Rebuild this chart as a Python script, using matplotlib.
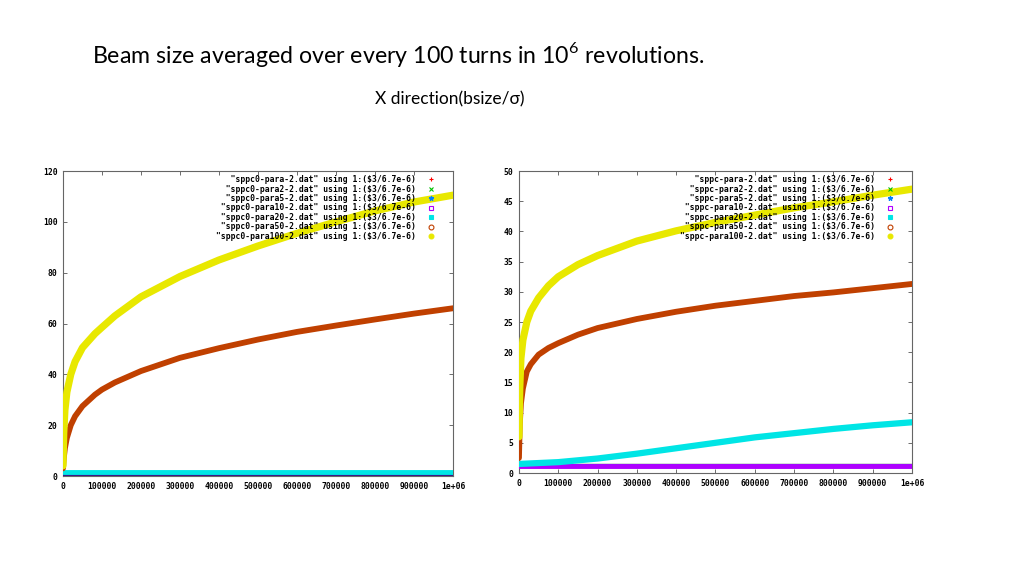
import numpy as np
import matplotlib
matplotlib.use('Agg')
import matplotlib.pyplot as plt
from matplotlib.lines import Line2D

plt.rcParams['mathtext.fontset'] = 'custom'
plt.rcParams['mathtext.rm'] = 'Lato'

### DADOS (turns, bsize/sigma) ###

# painel esquerdo (sppc0)
turns_l = [0, 2000, 5000, 10000, 20000, 31000, 50000, 82000, 100000, 133000, 200000,
           300000, 400000, 500000, 600000, 700000, 800000, 900000, 1000000]
yellow_l = [4, 17, 26, 33, 40, 45, 50.5, 56, 58.5, 63, 70.5,
            78.5, 85, 90.5, 95.5, 100, 104.3, 107.8, 110.5]
orange_l = [3, 7, 11, 15, 20, 23.5, 27.5, 32, 34, 36.8, 41.3,
            46.5, 50.3, 53.7, 56.7, 59.2, 61.6, 63.9, 66]
flat_x_l = [0, 1000000]
cyan_l = [1.4, 1.4]
purple_l = [0.7, 0.7]
low_l = [0.7, 0.7]   # para, para2, para5 (escondidos)

# painel direito (sppc)
turns_r = [0, 2000, 5000, 10000, 20000, 30000, 50000, 75000, 100000, 150000, 200000,
           300000, 400000, 500000, 600000, 700000, 800000, 900000, 1000000]
yellow_r = [6, 14, 19, 22, 25, 26.8, 29, 31, 32.5, 34.5, 36,
            38.4, 40.1, 41.5, 42.7, 43.9, 44.9, 46, 47]
orange_r = [2.5, 8, 11.5, 14, 16.8, 18, 19.6, 20.7, 21.5, 22.9, 24,
            25.5, 26.7, 27.7, 28.5, 29.3, 29.9, 30.6, 31.3]
cyan_x_r = [0, 100000, 200000, 300000, 400000, 500000, 600000, 700000, 800000, 900000, 1000000]
cyan_r = [1.5, 1.8, 2.4, 3.2, 4.1, 5.0, 5.9, 6.6, 7.3, 7.9, 8.4]
flat_x_r = [0, 1000000]
purple_r = [1.1, 1.1]
low_r = [1.1, 1.1]

xticks = [0, 100000, 200000, 300000, 400000, 500000, 600000, 700000, 800000, 900000, 1000000]
xticklabels = ['0', '100000', '200000', '300000', '400000', '500000', '600000',
               '700000', '800000', '900000', '1e+06']

names_l = ['sppc0-para-2.dat', 'sppc0-para2-2.dat', 'sppc0-para5-2.dat', 'sppc0-para10-2.dat',
           'sppc0-para20-2.dat', 'sppc0-para50-2.dat', 'sppc0-para100-2.dat']
names_r = ['sppc-para-2.dat', 'sppc-para2-2.dat', 'sppc-para5-2.dat', 'sppc-para10-2.dat',
           'sppc-para20-2.dat', 'sppc-para50-2.dat', 'sppc-para100-2.dat']

cores = ['#ff0000', '#00c000', '#0080ff', '#b000ff', '#00e5e5', '#c04000', '#e8e800']
marcadores = [dict(marker='+', mfc='none'), dict(marker='x', mfc='none'),
              dict(marker='*', mfc=None), dict(marker='s', mfc='none'),
              dict(marker='s', mfc=None), dict(marker='o', mfc='none'),
              dict(marker='o', mfc=None)]

mono = dict(family='DejaVu Sans Mono', fontsize=5.8, fontweight='bold')


def painel(ax, series, ymax, yticks, names):
    for (xs, ys, cor, lw) in series:
        ax.plot(xs, ys, color=cor, lw=lw, solid_capstyle='round',
                solid_joinstyle='round', zorder=3)
    ax.set_xlim(0, 1000000)
    ax.set_ylim(0, ymax)
    ax.set_xticks(xticks)
    ax.set_xticklabels(xticklabels, **mono)
    ax.set_yticks(yticks)
    ax.set_yticklabels([str(t) for t in yticks], **mono)
    ax.tick_params(direction='in', length=3, width=0.6, color='#555555',
                   top=True, right=True, pad=4)
    for s in ax.spines.values():
        s.set_color('#666666')
        s.set_linewidth(0.8)

    labels = ['"%s" using 1:($3/6.7e-6)' % n for n in names]
    w = max(len(l) for l in labels)
    labels = [l.rjust(w) for l in labels]
    handles = []
    for cor, mk in zip(cores, marcadores):
        kw = dict(mk)
        mfc = kw.pop('mfc')
        handles.append(Line2D([], [], ls='none', color=cor, markersize=3.5,
                              markeredgewidth=0.8,
                              markerfacecolor=cor if mfc is None else mfc, **kw))
    leg = ax.legend(handles, labels, loc='upper right', markerfirst=False,
                    frameon=False, prop=dict(family='DejaVu Sans Mono', size=5.8, weight='bold'),
                    labelspacing=0.06, handlelength=1.0, handletextpad=1.4,
                    borderaxespad=0.1, bbox_to_anchor=(0.965, 1.0))
    leg.set_zorder(5)


fig = plt.figure(figsize=(10.24, 5.76), dpi=100)

ax1 = fig.add_axes([0.0615, 0.1736, 0.3809, 0.5295])
painel(ax1, [
    (flat_x_l, low_l, cores[0], 2.5),
    (flat_x_l, low_l, cores[1], 2.5),
    (flat_x_l, low_l, cores[2], 2.5),
    (flat_x_l, purple_l, '#3a1a8a', 2.5),
    (flat_x_l, cyan_l, cores[4], 3.5),
    (turns_l, orange_l, cores[5], 4.2),
    (turns_l, yellow_l, cores[6], 5.2),
], 120, [0, 20, 40, 60, 80, 100, 120], names_l)

ax2 = fig.add_axes([0.5068, 0.1788, 0.3838, 0.5243])
painel(ax2, [
    (flat_x_r, low_r, cores[0], 3),
    (flat_x_r, low_r, cores[1], 3),
    (flat_x_r, low_r, cores[2], 3),
    (flat_x_r, purple_r, cores[3], 3.5),
    (cyan_x_r, cyan_r, cores[4], 4.5),
    (turns_r, orange_r, cores[5], 4.2),
    (turns_r, yellow_r, cores[6], 5.2),
], 50, [0, 5, 10, 15, 20, 25, 30, 35, 40, 45, 50], names_r)

fig.text(0.0898, 0.905, 'Beam size averaged over every 100 turns in 10$^{6}$ revolutions.',
         fontsize=16.7, family=['Lato', 'DejaVu Sans'], va='center', ha='left')
fig.text(0.4395, 0.828, 'X direction(bsize/\u03c3)', fontsize=12.5,
         family=['Lato', 'DejaVu Sans'], va='center', ha='center')

plt.savefig('out.png', dpi=100)
